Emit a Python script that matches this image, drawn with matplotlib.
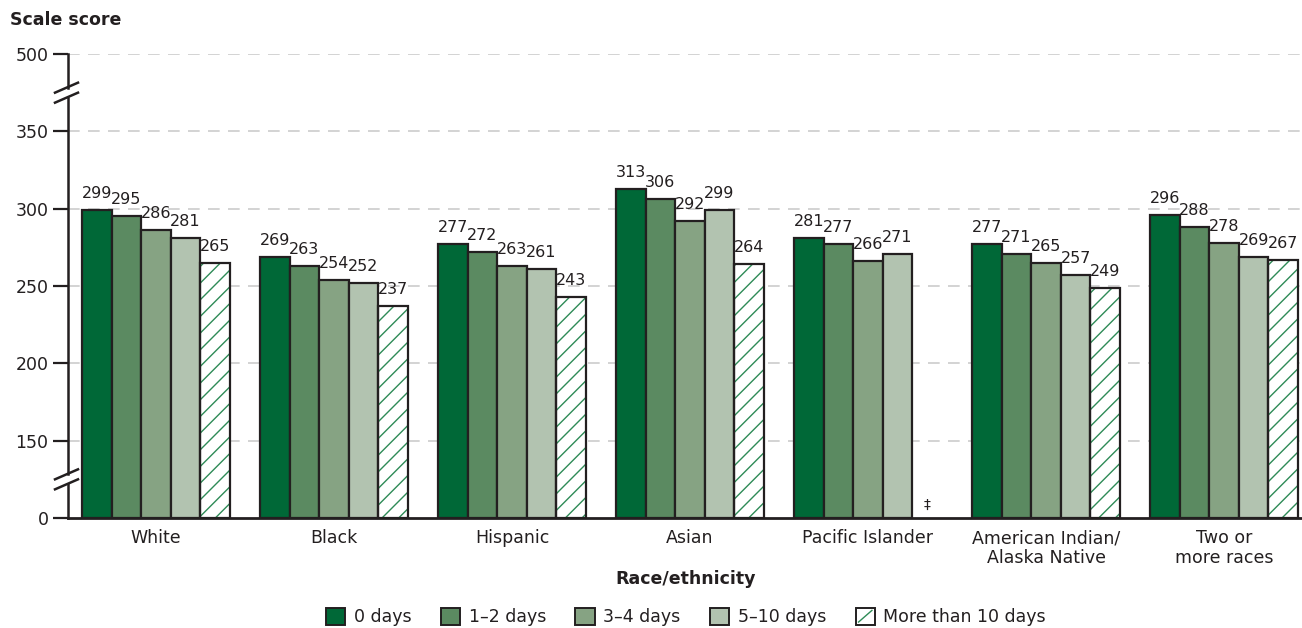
import matplotlib
matplotlib.use( 'Agg' )
import matplotlib.pyplot as plt
from matplotlib.patches import Patch, Rectangle
from matplotlib.lines import Line2D
from matplotlib.legend_handler import HandlerBase
import numpy as np

plt.rcParams[ 'font.family' ] = [ 'DejaVu Sans' ]
plt.rcParams[ 'hatch.linewidth' ] = 1.0

# ── data ────────────────────────────────────────────────────
CATEGORIES = [
    'White', 'Black', 'Hispanic', 'Asian', 'Pacific Islander',
    'American Indian/\nAlaska Native', 'Two or\nmore races',
]
SERIES = [ '0 days', '1\u20132 days', '3\u20134 days', '5\u201310 days', 'More than 10 days' ]
DAYS_0     = [ 299, 269, 277, 313, 281, 277, 296 ]
DAYS_1_2   = [ 295, 263, 272, 306, 277, 271, 288 ]
DAYS_3_4   = [ 286, 254, 263, 292, 266, 265, 278 ]
DAYS_5_10  = [ 281, 252, 261, 299, 271, 257, 269 ]
DAYS_10UP  = [ 265, 237, 243, 264, None, 249, 267 ]   # None = reporting standards not met
TICK_VALUES = [ 0, 150, 200, 250, 300, 350, 500 ]

COLORS = [ '#006837', '#5b8a61', '#86a383', '#b2c3b0', 'white' ]
HATCH_COLOR = '#2e8b57'
EDGE = '#231f20'
TEXT = '#231f20'


def to_axis( v ):
    """broken scale: 0-150 and 350-500 are squeezed into 50 units"""
    if v < 150:
        return 100 + v * 50.0 / 150.0
    if v > 350:
        return 350 + ( v - 350 ) * 50.0 / 150.0
    return float( v )


class HatchBoxHandler( HandlerBase ):
    # white box with one green diagonal, like the legend key of the hatched series
    def create_artists( self, legend, orig_handle, xdescent, ydescent, width, height, fontsize, trans ):
        box = Rectangle( ( -xdescent, -ydescent ), width, height, facecolor = 'white',
                         edgecolor = EDGE, linewidth = 1.4, transform = trans )
        diag = Line2D( [ -xdescent + 0.15 * width, -xdescent + 0.85 * width ],
                       [ -ydescent + 0.15 * height, -ydescent + 0.85 * height ],
                       color = HATCH_COLOR, linewidth = 1.0, transform = trans )
        return [ box, diag ]


W_PX, H_PX = 1302, 628
fig = plt.figure( figsize = ( W_PX / 100, H_PX / 100 ), dpi = 100 )
ax_l, ax_r, ax_b, ax_t = 68, 1302, 518, 54
ax = fig.add_axes( [ ax_l / W_PX, 1 - ax_b / H_PX, ( ax_r - ax_l ) / W_PX, ( ax_b - ax_t ) / H_PX ] )

XLIM = ( -0.494, 6.438 )
YLIM = ( to_axis( 0 ), to_axis( 500 ) )
ax.set_xlim( *XLIM )
ax.set_ylim( *YLIM )
px_x = ( XLIM[ 1 ] - XLIM[ 0 ] ) / ( ax_r - ax_l )
px_y = ( YLIM[ 1 ] - YLIM[ 0 ] ) / ( ax_b - ax_t )

# ── bars ───────────────────────────────────────────────────
series_vals = [ DAYS_0, DAYS_1_2, DAYS_3_4, DAYS_5_10, DAYS_10UP ]
x = np.arange( len( CATEGORIES ) )
bw = 0.166
base = to_axis( 0 )
for i, vals in enumerate( series_vals ):
    xs = x + ( i - 2 ) * bw
    for xi, v in zip( xs, vals ):
        if v is None:
            ax.text( xi, base + 6 * px_y, '\u2021', ha = 'center', va = 'bottom',
                     fontsize = 10, color = TEXT, zorder = 4 )
            continue
        h = to_axis( v ) - base
        if i == 4:
            ax.bar( xi, h, bw, bottom = base, color = 'white', edgecolor = HATCH_COLOR,
                    hatch = '//', linewidth = 0, zorder = 2 )
            ax.bar( xi, h, bw, bottom = base, fill = False, edgecolor = EDGE,
                    linewidth = 1.6, zorder = 3 )
        else:
            ax.bar( xi, h, bw, bottom = base, color = COLORS[ i ], edgecolor = EDGE,
                    linewidth = 1.6, zorder = 3 )
        ax.text( xi, to_axis( v ) + 9 * px_y, str( v ), ha = 'center', va = 'bottom',
                 fontsize = 11.5, color = TEXT, zorder = 4 )

# ── axes & grid ────────────────────────────────────────────
ticks = [ to_axis( t ) for t in TICK_VALUES ]
ax.set_yticks( ticks )
ax.set_yticklabels( [ str( t ) for t in TICK_VALUES ], fontsize = 12.5, color = TEXT )
ax.tick_params( axis = 'y', length = 11, width = 1.6, color = EDGE, pad = 3 )
for t in ticks[ 1: ]:
    ax.axhline( t, color = '#cccccc', linewidth = 1.2, linestyle = ( 0, ( 7, 5 ) ), zorder = 1 )

ax.set_xticks( x )
ax.set_xticklabels( CATEGORIES, fontsize = 12.5, color = TEXT, linespacing = 1.1 )
ax.tick_params( axis = 'x', length = 0, pad = 8 )

for s in [ 'top', 'right', 'left' ]:
    ax.spines[ s ].set_visible( False )
ax.spines[ 'bottom' ].set_color( EDGE )
ax.spines[ 'bottom' ].set_linewidth( 2 )

# left axis with two break marks
gap = 5 * px_y
breaks = [ to_axis( 75 ), to_axis( 425 ) ]
segs = [ ( YLIM[ 0 ], breaks[ 0 ] - gap ), ( breaks[ 0 ] + gap, breaks[ 1 ] - gap ),
         ( breaks[ 1 ] + gap, YLIM[ 1 ] ) ]
x0 = XLIM[ 0 ]
for y0, y1 in segs:
    ax.plot( [ x0, x0 ], [ y0, y1 ], color = EDGE, linewidth = 1.8, clip_on = False, zorder = 5 )
for b in breaks:
    for off in ( -gap, gap ):
        ax.plot( [ x0 - 13 * px_x, x0 + 10 * px_x ],
                 [ b + off - 5 * px_y, b + off + 5 * px_y ],
                 color = EDGE, linewidth = 1.8, clip_on = False, zorder = 5 )

# ── titles ─────────────────────────────────────────────────
fig.text( 10 / W_PX, 1 - 20 / H_PX, 'Scale score', fontsize = 12.5, fontweight = 'bold',
          color = TEXT, ha = 'left', va = 'center' )
fig.text( 686 / W_PX, 1 - 579 / H_PX, 'Race/ethnicity', fontsize = 12.5, fontweight = 'bold',
          color = TEXT, ha = 'center', va = 'center' )

# ── legend ─────────────────────────────────────────────────
handles = [ Patch( facecolor = COLORS[ i ], edgecolor = EDGE, linewidth = 1.4 ) for i in range( 4 ) ]
hatch_handle = Patch( facecolor = 'white', edgecolor = EDGE )
handles.append( hatch_handle )
fig.legend( handles = handles, labels = SERIES, loc = 'center',
            bbox_to_anchor = ( 686 / W_PX, 1 - 617 / H_PX ),
            handler_map = { hatch_handle: HatchBoxHandler() },
            ncol = 5, frameon = False, fontsize = 12.5, handlelength = 1.1, handleheight = 1.1,
            handletextpad = 0.5, columnspacing = 1.7, labelcolor = TEXT )

fig.savefig( 'out.png', dpi = 100 )
